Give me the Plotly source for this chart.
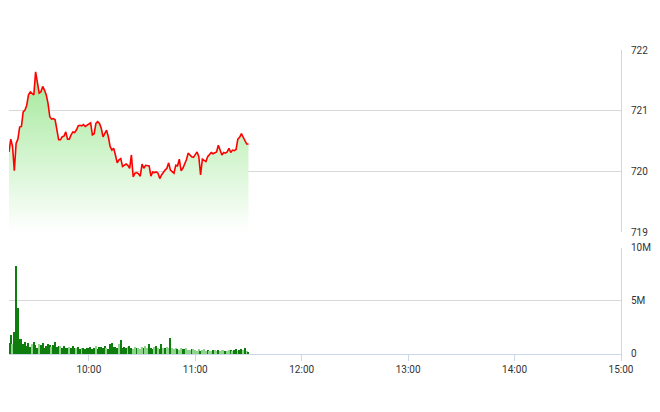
import pandas as pd
import plotly.graph_objects as go

# ---- data ----
start_time = "2024-01-02 09:15"
price = [
    720.32, 720.53, 720.41, 720.01, 720.46, 720.53, 720.73, 720.74, 720.98, 721.01,
    721.09, 721.26, 721.31, 721.29, 721.26, 721.64, 721.45, 721.29, 721.31, 721.40,
    721.34, 721.26, 721.12, 720.90, 720.86, 720.87, 720.85, 720.71, 720.52, 720.52,
    720.57, 720.58, 720.65, 720.53, 720.53, 720.60, 720.65, 720.64, 720.68, 720.75,
    720.76, 720.75, 720.77, 720.74, 720.76, 720.79, 720.80, 720.60, 720.62, 720.79,
    720.82, 720.79, 720.71, 720.57, 720.63, 720.68, 720.57, 720.41, 720.35, 720.38,
    720.27, 720.14, 720.19, 720.21, 720.08, 720.10, 720.12, 720.10, 720.05, 720.27,
    719.91, 719.97, 719.98, 719.96, 719.92, 720.12, 720.05, 720.10, 720.09, 720.09,
    719.92, 719.99, 719.98, 719.99, 719.97, 719.88, 719.94, 719.99, 720.02, 720.05,
    720.14, 720.02, 719.99, 719.97, 720.10, 720.09, 720.20, 720.01, 720.05, 720.12,
    720.19, 720.30, 720.27, 720.24, 720.23, 720.27, 720.32, 720.24, 719.94, 720.20,
    720.18, 720.16, 720.24, 720.27, 720.31, 720.29, 720.30, 720.32, 720.43, 720.34,
    720.27, 720.31, 720.30, 720.32, 720.38, 720.31, 720.35, 720.34, 720.36, 720.53,
    720.56, 720.62, 720.56, 720.49, 720.45, 720.45,
]
volume_m = [
    1.0, 1.8, 0.95, 2.1, 8.3, 4.3, 1.4, 1.4, 0.9, 1.1,
    0.75, 1.0, 0.7, 0.95, 1.15, 0.85, 0.6, 0.95, 0.85, 1.0,
    0.55, 0.75, 0.95, 0.85, 0.7, 0.85, 1.15, 0.7, 0.75, 0.75,
    0.6, 0.75, 0.6, 0.55, 0.65, 0.6, 0.8, 0.55, 0.6, 0.65,
    0.5, 0.55, 0.6, 0.45, 0.6, 0.55, 0.7, 0.5, 0.6, 0.75,
    0.5, 0.65, 0.7, 0.55, 0.8, 0.6, 0.5, 0.9, 1.0, 0.65,
    0.7, 0.55, 0.9, 1.3, 0.6, 0.7, 0.55, 0.65, 0.75, 0.6,
    0.5, 0.65, 0.55, 0.6, 0.5, 0.7, 0.6, 0.8, 0.55, 0.9,
    0.6, 0.5, 0.65, 0.75, 0.55, 0.5, 0.95, 0.6, 0.55, 0.7,
    0.6, 1.55, 0.6, 0.45, 0.55, 0.5, 0.4, 0.6, 0.45, 0.5,
    0.55, 0.4, 0.35, 0.45, 0.5, 0.35, 0.3, 0.45, 0.25, 0.4,
    0.5, 0.3, 0.35, 0.25, 0.3, 0.35, 0.4, 0.3, 0.35, 0.3,
    0.4, 0.35, 0.3, 0.25, 0.35, 0.4, 0.3, 0.35, 0.45, 0.3,
    0.4, 0.5, 0.35, 0.55, 0.3, 0.15,
]
volume_dark = [
    1, 1, 0, 1, 1, 1, 1, 1, 1, 1,
    1, 1, 1, 0, 1, 1, 1, 0, 1, 1,
    1, 1, 1, 1, 0, 1, 1, 1, 1, 0,
    1, 1, 1, 1, 0, 1, 1, 1, 0, 1,
    1, 0, 1, 1, 1, 1, 1, 1, 1, 0,
    1, 1, 1, 1, 1, 0, 1, 1, 1, 1,
    1, 1, 0, 1, 1, 1, 1, 0, 1, 1,
    0, 0, 1, 0, 0, 0, 1, 0, 0, 1,
    1, 1, 0, 1, 0, 1, 1, 0, 1, 0,
    0, 1, 0, 0, 0, 1, 0, 0, 1, 1,
    0, 0, 0, 1, 0, 0, 0, 0, 1, 0,
    0, 0, 1, 0, 0, 1, 0, 0, 1, 0,
    0, 0, 1, 0, 0, 1, 0, 1, 1, 0,
    1, 1, 0, 1, 0, 1,
]
x_ticks = ["10:00", "11:00", "12:00", "13:00", "14:00", "15:00"]
day = "2024-01-02"

times = pd.date_range(start_time, periods=len(price), freq="min")
volume = [v * 1e6 for v in volume_m]
bar_colors = ["#0e7d0e" if d else "#8fd48c" for d in volume_dark]

fig = go.Figure()
fig.add_trace(go.Scatter(
    x=times, y=price, mode="lines", xaxis="x", yaxis="y2",
    line=dict(color="#ff0000", width=1.6),
    fill="tozeroy",
    fillgradient=dict(type="vertical", start=719, stop=721.7,
                      colorscale=[[0, "rgba(255,255,255,1)"], [1, "#9fe896"]]),
    hoverinfo="skip", showlegend=False,
))
fig.add_trace(go.Bar(
    x=times, y=volume, xaxis="x", yaxis="y",
    marker=dict(color=bar_colors, line=dict(width=0)),
    width=0.75 * 60000, showlegend=False, hoverinfo="skip",
))

tick_vals = [pd.Timestamp(f"{day} {t}") for t in x_ticks]
font = dict(family="Roboto, Arial, sans-serif", size=10, color="#333333")
fig.update_layout(
    width=652, height=380, autosize=False,
    margin=dict(l=1, r=39, t=42, b=34, autoexpand=False),
    paper_bgcolor="white", plot_bgcolor="white",
    bargap=0,
    xaxis=dict(
        type="date", anchor="y", automargin=False,
        range=[pd.Timestamp(f"{day} 09:15"), pd.Timestamp(f"{day} 15:00")],
        tickvals=tick_vals, ticktext=x_ticks,
        ticks="outside", ticklen=6, tickcolor="#ccd6eb", tickwidth=1,
        showline=True, linecolor="#ccd6eb", linewidth=1,
        showgrid=False, zeroline=False, tickfont=font,
    ),
    yaxis=dict(
        domain=[0, 0.3487], range=[0, 10e6], side="right", automargin=False,
        tickvals=[0, 5e6, 10e6], ticktext=["0", "5M", "10M"],
        showgrid=True, gridcolor="#d8d8d8", gridwidth=1,
        showline=True, linecolor="#ccd6eb", linewidth=1, mirror=False,
        zeroline=False, ticks="", ticklabelstandoff=7, tickfont=font,
    ),
    yaxis2=dict(
        domain=[0.4013, 1], range=[719, 722], side="right", anchor="x",
        automargin=False,
        tickvals=[719, 720, 721, 722], ticktext=["719", "720", "721", "722"],
        showgrid=True, gridcolor="#d8d8d8", gridwidth=1,
        showline=True, linecolor="#ccd6eb", linewidth=1,
        zeroline=False, ticks="", ticklabelstandoff=7, tickfont=font,
    ),
)
fig.write_html("out.html")
